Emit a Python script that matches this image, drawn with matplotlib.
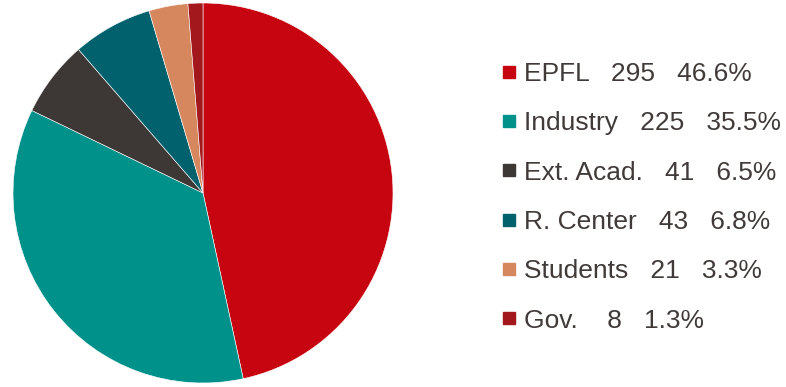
import matplotlib.pyplot as plt
from matplotlib.lines import Line2D

# Data
categories = ["EPFL", "Industry", "Ext. Acad.", "R. Center", "Students", "Gov."]
counts = [295, 225, 41, 43, 21, 8]
percents = ["46.6%", "35.5%", "6.5%", "6.8%", "3.3%", "1.3%"]
colors = ["#c70510", "#00928a", "#3d3835", "#01626e", "#d6875d", "#a3181c"]
text_color = "#403b39"

plt.rcParams['font.family'] = ['Liberation Sans', 'DejaVu Sans']

fig = plt.figure(figsize=(7.86, 3.87), dpi=100)
ax = fig.add_axes([13 / 786, 4 / 387, 380 / 786, 380 / 387])
ax.pie(counts, colors=colors, startangle=90, counterclock=False,
       wedgeprops=dict(edgecolor="white", linewidth=0.4))
ax.set_xlim(-1, 1)
ax.set_ylim(-1, 1)
ax.set_aspect("equal")

# Legend with count and share
labels = [f"{c}   {n:>2}   {p}" for c, n, p in zip(categories, counts, percents)]
handles = [Line2D([], [], marker="s", linestyle="none", markersize=8,
                  markerfacecolor=col, markeredgecolor=col) for col in colors]
leg = fig.legend(handles, labels, loc="upper left",
                 bbox_to_anchor=(502 / 786, 1 - 62 / 387),
                 frameon=False, fontsize=19, handlelength=0.55,
                 handletextpad=0.3, labelspacing=0.96, borderpad=0,
                 borderaxespad=0)
for t in leg.get_texts():
    t.set_color(text_color)

fig.savefig("out.png", dpi=100)
